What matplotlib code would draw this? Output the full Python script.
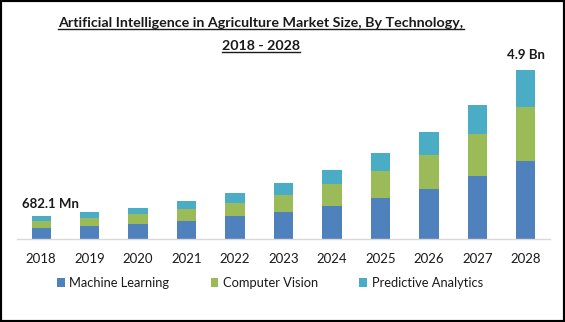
import matplotlib
matplotlib.use("Agg")
import matplotlib.pyplot as plt
from matplotlib.lines import Line2D
from matplotlib.patches import Rectangle
import numpy as np

years = ["2018", "2019", "2020", "2021", "2022", "2023", "2024", "2025", "2026", "2027", "2028"]
machine_learning = [0.33, 0.39, 0.45, 0.53, 0.66, 0.79, 0.96, 1.19, 1.45, 1.83, 2.26]
computer_vision = [0.20, 0.23, 0.28, 0.35, 0.39, 0.49, 0.64, 0.78, 0.99, 1.22, 1.57]
predictive_analytics = [0.152, 0.17, 0.17, 0.24, 0.30, 0.34, 0.41, 0.52, 0.67, 0.84, 1.07]
series_names = ["Machine Learning", "Computer Vision", "Predictive Analytics"]
colors = ["#4F81BD", "#9BBB59", "#4BACC6"]
label_first = "682.1 Mn"
label_last = "4.9 Bn"
title_lines = ["Artificial Intelligence in Agriculture Market Size, By Technology,", "2018 - 2028"]

FONT = "Lato"
W, H = 565, 322
fig = plt.figure(figsize=(W / 100, H / 100), dpi=100)
fig.patch.set_facecolor("white")

def fx(px):
    return px / W

def fy(py):
    return 1 - py / H

ax = fig.add_axes([fx(17), fy(239.3), fx(550) - fx(17), (172.8) / H])
x = np.arange(len(years))
ml = np.array(machine_learning)
cv = np.array(computer_vision)
pa = np.array(predictive_analytics)
bw = 0.40
b1 = ax.bar(x, ml, bw, color=colors[0], label=series_names[0])
b2 = ax.bar(x, cv, bw, bottom=ml, color=colors[1], label=series_names[1])
b3 = ax.bar(x, pa, bw, bottom=ml + cv, color=colors[2], label=series_names[2])
ax.set_xlim(-0.5, len(years) - 0.5)
ax.set_ylim(0, 5.0)
for s in ["top", "right", "left"]:
    ax.spines[s].set_visible(False)
ax.spines["bottom"].set_color("#D9D9D9")
ax.spines["bottom"].set_linewidth(1.0)
ax.set_yticks([])
ax.set_xticks(x)
ax.set_xticklabels(years, fontsize=9.5, family=FONT, color="#1a1a1a")
ax.tick_params(axis="x", length=0, pad=10)
ax.patch.set_alpha(0)

totals = ml + cv + pa
ax.text(x[0] - 0.4, totals[0] + 0.33, label_first, ha="left", va="center",
        fontsize=9.5, fontweight="bold", family=FONT, color="#1a1a1a")
ax.text(x[-1], totals[-1] + 0.42, label_last, ha="center", va="center",
        fontsize=9.5, fontweight="bold", family=FONT, color="#1a1a1a")

# Title with underline
title_texts = []
for line, base in zip(title_lines, [26.7, 50.0]):
    t = fig.text(fx(261), fy(base), line, ha="center", va="baseline",
                 fontsize=10.3, fontweight="bold", family=FONT, color="#1a1a1a")
    title_texts.append((t, base))

fig.legend(handles=[b1, b2, b3], labels=series_names, loc="center",
           bbox_to_anchor=(fx(270), fy(283)), ncol=3, frameon=False,
           prop={"family": FONT, "size": 9.3}, handlelength=0.6, handleheight=0.6,
           handletextpad=0.35, columnspacing=3.2, labelcolor="#1a1a1a")

fig.canvas.draw()
r = fig.canvas.get_renderer()
for t, base in title_texts:
    bb = t.get_window_extent(r)
    yline = H - base - 2.0
    fig.add_artist(Line2D([bb.x0 / W, bb.x1 / W], [yline / H, yline / H],
                          color="#1a1a1a", linewidth=1.0))

# outer border
fig.add_artist(Rectangle((0, 0), 1, 1, transform=fig.transFigure, fill=False,
                         edgecolor="black", linewidth=3.0))

fig.savefig("out.png", dpi=100)
